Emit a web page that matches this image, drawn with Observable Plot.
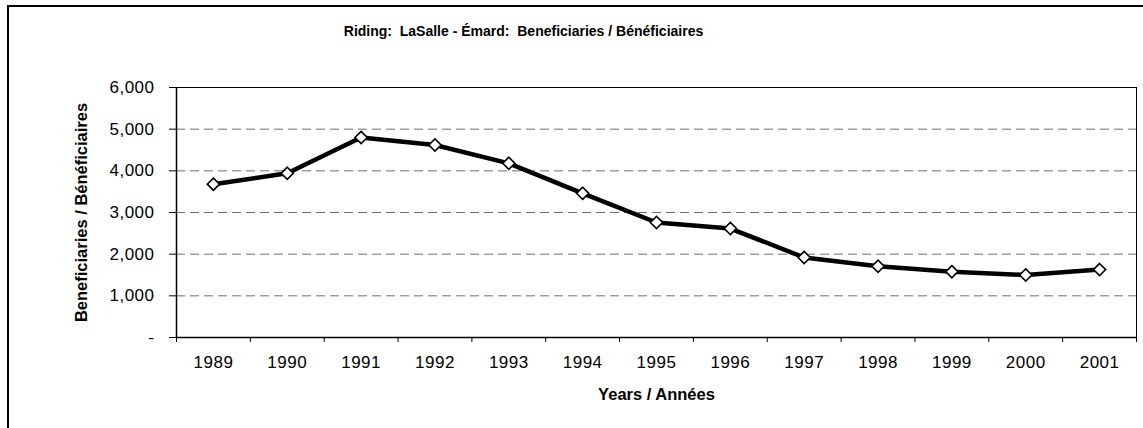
<!DOCTYPE html>
<html>
<head>
<meta charset="utf-8">
<script src="https://cdn.jsdelivr.net/npm/d3@7"></script>
<script src="https://cdn.jsdelivr.net/npm/@observablehq/plot@0.6"></script>
<style>
  html, body { margin: 0; padding: 0; background: #fff; }
  #wrap { position: relative; width: 1143px; height: 428px; overflow: hidden; background: #fff; }
  #border { position: absolute; left: 7px; top: 5px; width: 1200px; height: 600px;
            border-left: 2px solid #000; border-top: 2px solid #000; box-sizing: border-box; pointer-events: none; }
  svg text { white-space: pre; }
  g[aria-label="y-axis tick label"] text, g[aria-label="x-axis tick label"] text { letter-spacing: 0.5px; }
</style>
</head>
<body>
<div id="wrap"><div id="border"></div></div>
<script>
const years = [1989, 1990, 1991, 1992, 1993, 1994, 1995, 1996, 1997, 1998, 1999, 2000, 2001];
const beneficiaries = [3680, 3940, 4800, 4620, 4180, 3460, 2760, 2615, 1920, 1710, 1580, 1500, 1630];
const yTicks = [0, 1000, 2000, 3000, 4000, 5000, 6000];
const titleText = "Riding:  LaSalle - Émard:  Beneficiaries / Bénéficiaires";
const yLabel = "Beneficiaries / Bénéficiaires";
const xLabel = "Years / Années";

const data = years.map((year, i) => ({year, value: beneficiaries[i]}));
const boundaries = years.map(y => y - 0.5).concat([years[years.length - 1] + 0.5]);
const fmt = d3.format(",");

const chart = Plot.plot({
  width: 1143,
  height: 428,
  marginLeft: 176,
  marginRight: 7,
  marginTop: 87,
  marginBottom: 91,
  style: {fontFamily: "'Liberation Sans', Arial, sans-serif", color: "#000", background: "transparent", overflow: "visible"},
  x: {type: "linear", domain: [boundaries[0], boundaries[boundaries.length - 1]]},
  y: {domain: [yTicks[0], yTicks[yTicks.length - 1]]},
  marks: [
    Plot.gridY(yTicks.filter(d => d > yTicks[0] && d < yTicks[yTicks.length - 1]),
      {stroke: "#6f6f6f", strokeOpacity: 1, strokeWidth: 1, strokeDasharray: "9,5"}),
    Plot.frame({stroke: "#000", strokeWidth: 1}),
    Plot.ruleX([boundaries[0]], {stroke: "#000", strokeWidth: 1.5}),
    Plot.ruleY([yTicks[0]], {stroke: "#000", strokeWidth: 1.5}),
    Plot.axisY(yTicks, {tickSize: 7, tickPadding: 15, fontSize: 17, label: null,
      tickFormat: d => d === 0 ? "-" : fmt(d), stroke: "#000"}),
    Plot.axisX(boundaries, {tickSize: 5, tickFormat: () => "", label: null, stroke: "#000"}),
    Plot.axisX(years, {tickSize: 0, tickPadding: 18, fontSize: 17, label: null, tickFormat: d => String(d)}),
    Plot.line(data, {x: "year", y: "value", stroke: "#000", strokeWidth: 4.5, strokeLinejoin: "round"}),
    Plot.dot(data, {x: "year", y: "value", symbol: "diamond2", r: 5.5, fill: "#fff", stroke: "#000", strokeWidth: 1.6}),
    Plot.text([titleText], {frameAnchor: "top", dx: -133, dy: -56, lineAnchor: "middle",
      fontSize: 14, fontWeight: "bold", fill: "#000"}),
    Plot.text([yLabel], {frameAnchor: "left", dx: -94.5, rotate: -90, lineAnchor: "middle", textAnchor: "middle",
      fontSize: 16.5, fontWeight: "bold", fill: "#000"}),
    Plot.text([xLabel], {frameAnchor: "bottom", dy: 57.5, lineAnchor: "middle",
      fontSize: 16.5, fontWeight: "bold", fill: "#000"})
  ]
});
document.getElementById("wrap").prepend(chart);
</script>
</body>
</html>
